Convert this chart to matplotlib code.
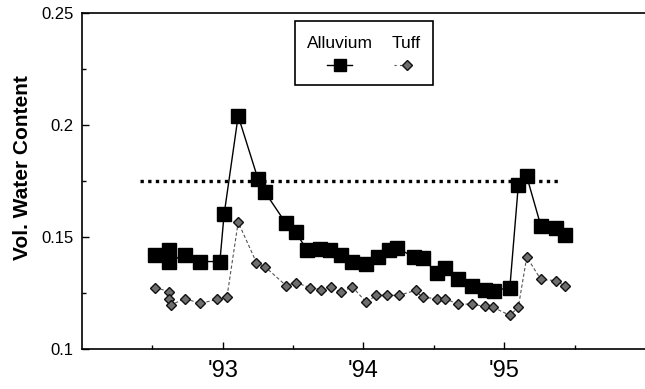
import matplotlib.pyplot as plt
from matplotlib.patches import Rectangle
from matplotlib.lines import Line2D

plt.rcParams['font.family'] = ['Liberation Sans', 'DejaVu Sans']

# Alluvium (squares, solid line)
alluvium_x = [92.52, 92.62, 92.62, 92.73, 92.84, 92.98, 93.01, 93.11, 93.25, 93.30,
              93.45, 93.52, 93.60, 93.69, 93.76, 93.84, 93.92, 94.02, 94.10, 94.18,
              94.24, 94.36, 94.42, 94.52, 94.58, 94.67, 94.77, 94.86, 94.93, 95.04,
              95.10, 95.16, 95.26, 95.37, 95.43]
alluvium_y = [0.142, 0.144, 0.139, 0.142, 0.139, 0.139, 0.160, 0.204, 0.176, 0.170,
              0.156, 0.152, 0.144, 0.1446, 0.144, 0.142, 0.139, 0.138, 0.141, 0.144,
              0.145, 0.141, 0.1407, 0.134, 0.136, 0.131, 0.128, 0.1265, 0.126, 0.1274,
              0.173, 0.177, 0.155, 0.154, 0.151]

# Tuff (diamonds, dashed line)
tuff_x = [92.52, 92.62, 92.62, 92.63, 92.73, 92.84, 92.96, 93.03, 93.11, 93.24,
          93.30, 93.45, 93.52, 93.62, 93.70, 93.77, 93.84, 93.92, 94.02, 94.09,
          94.17, 94.25, 94.37, 94.42, 94.52, 94.58, 94.67, 94.77, 94.86, 94.92,
          95.04, 95.10, 95.16, 95.26, 95.37, 95.43]
tuff_y = [0.1274, 0.1256, 0.1225, 0.1195, 0.1225, 0.1203, 0.1221, 0.123, 0.1566, 0.1385,
          0.1367, 0.1283, 0.1296, 0.1274, 0.1265, 0.1278, 0.1252, 0.1278, 0.1208, 0.1239,
          0.1239, 0.1239, 0.1261, 0.123, 0.1225, 0.1225, 0.120, 0.120, 0.119, 0.1186,
          0.115, 0.1186, 0.141, 0.131, 0.1305, 0.128]

# threshold line
limite_x = [92.41, 95.40]
limite_y = 0.175

year_ticks = [93, 94, 95]
year_labels = ["'93", "'94", "'95"]
y_ticks = [0.1, 0.15, 0.2, 0.25]
y_labels = ['0.1', '0.15', '0.2', '0.25']

fig = plt.figure(figsize=(6.45, 3.89), dpi=100)
ax = fig.add_axes([0.127, 0.103, 0.873, 0.864])

ax.hlines(limite_y, limite_x[0], limite_x[1], colors='black', linewidth=2.4,
          linestyles=(0, (1.0, 1.3)))

ax.plot(tuff_x, tuff_y, color='#555555', linewidth=0.8, linestyle=(0, (3, 2)),
        marker='D', markersize=5.5, markerfacecolor='#6e6e6e', markeredgecolor='#111111',
        markeredgewidth=1.0)
ax.plot(alluvium_x, alluvium_y, color='black', linewidth=1.0,
        marker='s', markersize=9.5, markerfacecolor='black', markeredgecolor='black')

ax.set_xlim(92, 96)
ax.set_ylim(0.1, 0.25)
ax.set_xticks(year_ticks)
ax.set_xticklabels(year_labels, fontsize=17)
ax.set_xticks([92.5, 93.5, 94.5, 95.5], minor=True)
ax.set_yticks(y_ticks)
ax.set_yticklabels(y_labels, fontsize=12)
ax.set_yticks([0.125, 0.175, 0.225], minor=True)
ax.tick_params(axis='both', which='major', direction='in', length=5, width=1)
ax.tick_params(axis='both', which='minor', direction='in', length=3, width=1)
ax.tick_params(axis='y', which='both', pad=6)
ax.tick_params(axis='x', which='major', pad=8)
ax.spines['right'].set_visible(False)
for s in ['left', 'bottom', 'top']:
    ax.spines[s].set_linewidth(1.2)

ax.set_ylabel('Vol. Water Content', fontsize=15, fontweight='bold')
ax.yaxis.set_label_coords(-0.089, 0.54)

# legend box with labels above the symbols
ax.add_patch(Rectangle((0.378, 0.785), 0.245, 0.19, transform=ax.transAxes,
                       fill=False, edgecolor='black', linewidth=1.2))
ax.text(0.458, 0.91, 'Alluvium', transform=ax.transAxes, ha='center', va='center', fontsize=12.5)
ax.text(0.575, 0.91, 'Tuff', transform=ax.transAxes, ha='center', va='center', fontsize=12.5)
ax.add_line(Line2D([0.435, 0.48], [0.845, 0.845], transform=ax.transAxes, color='black',
                   linewidth=1.0))
ax.add_line(Line2D([0.458], [0.845], transform=ax.transAxes, marker='s', markersize=8,
                   color='black'))
ax.add_line(Line2D([0.555, 0.572], [0.845, 0.845], transform=ax.transAxes, color='#555555',
                   linewidth=0.8, linestyle=(0, (2, 3))))
ax.add_line(Line2D([0.577], [0.845], transform=ax.transAxes, marker='D', markersize=5.5,
                   markerfacecolor='#6e6e6e', markeredgecolor='#111111'))

fig.savefig('out.png', dpi=100)
